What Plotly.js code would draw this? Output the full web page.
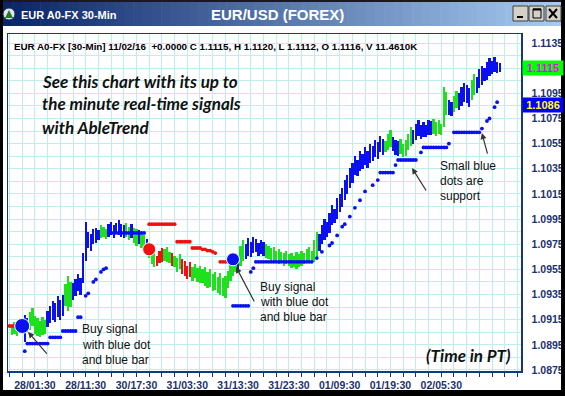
<!DOCTYPE html>
<html><head><meta charset="utf-8">
<script src="https://cdn.plot.ly/plotly-3.0.1.min.js"></script>
<style>html,body{margin:0;padding:0;background:#fff;overflow:hidden}#chart{width:565px;height:396px}</style>
</head><body><div id="chart"></div>
<script>
// ---- DATA (30-min bars) ----
const barHigh = [
1.0911,1.0913,1.0910,1.0912,1.0912,1.0919,1.0916,1.0921,1.0924,1.0918,
1.0916,1.0914,1.0917,1.0915,1.0922,1.0926,1.0930,1.0928,1.0934,1.0931,
1.0935,1.0943,1.0950,1.0945,1.0944,1.0947,1.0951,1.0948,1.0968,1.0993,
1.0985,1.0983,1.0987,1.0988,1.0986,1.0990,1.0989,1.0987,1.0991,1.0993,
1.0990,1.0992,1.0994,1.0991,1.0990,1.0992,1.0989,1.0991,1.0988,1.0987,
1.0986,1.0984,1.0982,1.0979,1.0974,1.0970,1.0968,1.0966,1.0970,1.0972,
1.0971,1.0973,1.0969,1.0968,1.0966,1.0964,1.0967,1.0963,1.0962,1.0958,
1.0961,1.0957,1.0959,1.0956,1.0958,1.0955,1.0957,1.0953,1.0955,1.0951,
1.0953,1.0949,1.0952,1.0948,1.0950,1.0954,1.0962,1.0966,1.0964,1.0965,
1.0974,1.0978,1.0975,1.0980,1.0977,1.0981,1.0979,1.0976,1.0978,1.0977,
1.0975,1.0974,1.0972,1.0973,1.0970,1.0971,1.0969,1.0968,1.0970,1.0967,
1.0968,1.0966,1.0969,1.0967,1.0970,1.0968,1.0971,1.0973,1.0970,1.0978,
1.0985,1.0983,1.0990,1.0995,1.0993,1.1000,1.1006,1.1003,1.1012,1.1015,
1.1020,1.1026,1.1030,1.1036,1.1040,1.1045,1.1042,1.1049,1.1047,1.1052,
1.1049,1.1055,1.1053,1.1058,1.1056,1.1061,1.1059,1.1057,1.1063,1.1066,
1.1060,1.1058,1.1057,1.1059,1.1055,1.1058,1.1063,1.1068,1.1066,1.1071,
1.1074,1.1070,1.1072,1.1070,1.1074,1.1073,1.1075,1.1072,1.1074,1.1071,
1.1100,1.1096,1.1090,1.1088,1.1093,1.1097,1.1095,1.1100,1.1103,1.1102,
1.1099,1.1106,1.1110,1.1108,1.1114,1.1117,1.1115,1.1120,1.1123,1.1121,
1.1124,1.1120,1.1119];
const barLow = [
1.0903,1.0904,1.0902,1.0905,1.0904,1.0897,1.0905,1.0907,1.0910,1.0904,
1.0902,1.0901,1.0903,1.0904,1.0909,1.0912,1.0915,1.0913,1.0917,1.0915,
1.0918,1.0926,1.0922,1.0925,1.0931,1.0934,1.0938,1.0935,1.0944,1.0962,
1.0972,1.0970,1.0975,1.0976,1.0978,1.0980,1.0981,1.0979,1.0981,1.0982,
1.0980,1.0983,1.0982,1.0981,1.0980,1.0981,1.0978,1.0980,1.0976,1.0974,
1.0975,1.0972,1.0971,1.0968,1.0964,1.0959,1.0957,1.0958,1.0960,1.0961,
1.0962,1.0961,1.0960,1.0958,1.0957,1.0953,1.0955,1.0951,1.0950,1.0947,
1.0949,1.0946,1.0948,1.0945,1.0944,1.0944,1.0942,1.0940,1.0941,1.0938,
1.0939,1.0936,1.0935,1.0934,1.0932,1.0940,1.0946,1.0950,1.0953,1.0955,
1.0958,1.0962,1.0963,1.0966,1.0965,1.0968,1.0969,1.0966,1.0967,1.0966,
1.0964,1.0963,1.0962,1.0961,1.0960,1.0959,1.0960,1.0958,1.0959,1.0958,
1.0956,1.0957,1.0955,1.0957,1.0958,1.0959,1.0960,1.0961,1.0960,1.0961,
1.0965,1.0970,1.0975,1.0978,1.0981,1.0984,1.0990,1.0992,1.0995,1.1001,
1.1005,1.1010,1.1015,1.1020,1.1024,1.1030,1.1029,1.1033,1.1035,1.1038,
1.1036,1.1040,1.1041,1.1044,1.1043,1.1048,1.1046,1.1048,1.1050,1.1052,
1.1049,1.1046,1.1045,1.1047,1.1044,1.1045,1.1050,1.1053,1.1055,1.1058,
1.1061,1.1059,1.1060,1.1060,1.1062,1.1062,1.1063,1.1061,1.1063,1.1062,
1.1068,1.1078,1.1078,1.1077,1.1080,1.1083,1.1082,1.1085,1.1088,1.1087,
1.1084,1.1090,1.1094,1.1095,1.1099,1.1102,1.1105,1.1106,1.1109,1.1110,
1.1112,1.1111,1.1112];
// trend colour of each bar: b = up (blue), g = neutral (green), r = down (red)
const barTrend = (
"gggggbbggggggg" + "bbbbbbb" + "ggg" + "bbbbbbbbbbb" + "ggg" + "bbbbbbb" + "gg" + "b" + "gg" + "b" + "gg" + "bggg" +
"rrrgggrgggrrrr" + "gggggggggggggggggg" + "b" + "gg" + "bbbbbbbb" + "g" +
"gggggggggggggggggggg" + "bbbbbbbbbbbbbbbbbbbbbbbbbb" + "ggg" + "bbb" + "ggggg" + "bbbbbbbb" + "gggggg" +
"bb" + "gg" + "bbbbb" + "gg" + "bbbbbbbbbb" + "gg").split("");

// small blue support dots
const supportIdx = [5,6,7,8,9,10,11,12,13,14,15,16,17,18,19,20,21,22,23,24,25,26,27,29,30,32,33,35,36,37,
 38,39,40,41,42,43,44,45,46,47,48,49,50,51,52,
 87,88,89,90,91,92,93,94,95,96,97,98,99,100,101,102,103,104,105,106,107,108,109,110,111,112,113,114,115,116,117,118,
 120,122,125,126,128,130,131,133,135,137,139,142,144,145,146,147,148,149,150,151,152,153,154,155,156,157,158,159,
 161,162,163,164,165,166,167,168,169,170,171,172,174,175,176,177,178,179,180,181,182,183,184,185,187,188,190,191];
const supportPrice = [1.0890,1.0896,1.0896,1.0896,1.0896,1.0896,1.0896,1.0896,1.0896,1.0896,1.0901,1.0901,1.0901,1.0901,1.0901,
 1.0906,1.0906,1.0906,1.0906,1.0906,1.0906,1.0917,1.0917,1.0934,1.0936,1.0945,1.0947,1.0953,1.0955,1.0956,
 1.0984,1.0984,1.0984,1.0984,1.0984,1.0984,1.0984,1.0984,1.0984,1.0984,1.0984,1.0984,1.0984,1.0984,1.0984,
 1.0926,1.0926,1.0926,1.0926,1.0926,1.0926,1.0926,1.0953,1.0956,1.0961,1.0961,1.0961,1.0961,1.0961,1.0961,1.0961,1.0961,1.0961,
 1.0961,1.0961,1.0961,1.0961,1.0961,1.0961,1.0961,1.0961,1.0961,1.0961,1.0961,1.0961,1.0961,1.0961,
 1.0964,1.0969,1.0974,1.0976,1.0982,1.0989,1.0991,1.0997,1.1004,1.1010,1.1017,1.1022,1.1026,1.1032,1.1032,1.1032,1.1032,1.1032,1.1032,
 1.1038,1.1042,1.1042,1.1042,1.1042,1.1042,1.1042,1.1042,1.1042,
 1.1048,1.1052,1.1052,1.1052,1.1052,1.1052,1.1052,1.1052,1.1052,1.1052,1.1052,1.1055,
 1.1064,1.1064,1.1064,1.1064,1.1064,1.1064,1.1064,1.1064,1.1064,1.1064,1.1064,1.1067,1.1073,1.1075,1.1084,1.1088];
// small red resistance dots
const resistIdx = [-1,0,1,54,55,56,57,58,59,60,61,62,63,64,65,66,67,68,69,70,71,72,73,74,75,76,77,78,79,80,82,83,84,85];
const resistPrice = [1.0910,1.0910,1.0910,1.0991,1.0991,1.0991,1.0991,1.0991,1.0991,1.0991,1.0991,1.0991,1.0991,1.0991,
 1.0977,1.0977,1.0977,1.0977,1.0977,1.0977,1.0972,1.0972,1.0972,1.0972,1.0971,1.0971,1.0970,1.0970,1.0969,1.0968,
 1.0961,1.0961,1.0961,1.0961];
// big signal dots
const signalIdx = [4, 54, 87];
const signalPrice = [1.0910, 1.0971, 1.0963];
const signalTrend = ["b", "r", "b"];
// axes
const timeTickIdx = [9, 29, 49, 69, 89, 109, 129, 149, 169];
const timeTickLabels = ["28/01:30","28/11:30","30/17:30","31/03:30","31/13:30","31/23:30","01/09:30","01/19:30","02/05:30"];
const priceTicks = [1.0875,1.0895,1.0915,1.0935,1.0955,1.0975,1.0995,1.1015,1.1035,1.1055,1.1075,1.1095,1.1135];
const lastClose = 1.1115;
const supportLevel = 1.1086;
const headerText = "EUR A0-FX [30-Min] 11/02/16  +0.0000 C 1.1115, H 1.1120, L 1.1112, O 1.1116, V 11.4610K";

// ---- STYLE / LAYOUT ----
const COL = {b: "#0a10f0", g: "#1fe01f", r: "#f01010"};
const W = 565, H = 396, PL = 8, PR = 521, PT = 34, PB = 371;
const X = px => (px - PL) / (PR - PL);
const Y = py => (PB - py) / (PB - PT);

const idx = barHigh.map((_, i) => i);
const traces = [
  {type: "bar", x: idx, y: barHigh.map((h, i) => h - barLow[i]), base: barLow, width: 0.9,
   marker: {color: barTrend.map(t => COL[t]), line: {width: 0}}, hoverinfo: "skip"},
  {type: "scatter", mode: "markers", x: resistIdx, y: resistPrice,
   marker: {color: COL.r, size: 3.8, opacity: 1}, hoverinfo: "skip"},
  {type: "scatter", mode: "markers", x: supportIdx, y: supportPrice,
   marker: {color: COL.b, size: 3.8, opacity: 1}, hoverinfo: "skip"},
  {type: "scatter", mode: "markers", x: signalIdx, y: signalPrice,
   marker: {color: signalTrend.map(t => COL[t]), size: [15, 13, 13], opacity: 1}, hoverinfo: "skip"}
];

const tickvals = [], ticktext = [];
for (let v = -1; v <= 200; v += 5) {
  tickvals.push(v);
  const k = timeTickIdx.indexOf(v);
  ticktext.push(k >= 0 ? timeTickLabels[k] : "");
}

const shapes = [];
// title bar gradient
const N = 60, c0 = [10, 36, 106], c1 = [166, 202, 240];
for (let k = 0; k < N; k++) {
  const t = k / (N - 1);
  const c = c0.map((v, j) => Math.round(v + (c1[j] - v) * t));
  shapes.push({type: "rect", xref: "paper", yref: "paper", layer: "above",
    x0: X(3 + k * 558 / N), x1: X(3 + (k + 1) * 558 / N + 0.6), y0: Y(26), y1: Y(2),
    fillcolor: `rgb(${c.join(",")})`, line: {width: 0}});
}
// window borders
const rect = (x0, y0, x1, y1, fill, line) => shapes.push({type: "rect", xref: "paper", yref: "paper", layer: "above",
  x0: X(x0), x1: X(x1), y0: Y(y1), y1: Y(y0), fillcolor: fill, line: line || {width: 0}});
rect(0, 0, 565, 2, "#1a1a1a");
rect(0, 0, 3, 396, "#000");
rect(561, 0, 565, 396, "#000");
rect(0, 390, 565, 396, "#000");
// window buttons
rect(513, 6, 528, 21, "#d4d0c8", {color: "#404040", width: 1});
rect(529, 6, 544, 21, "#d4d0c8", {color: "#404040", width: 1});
rect(546, 6, 561, 21, "#d4d0c8", {color: "#404040", width: 1});
const seg = (x0, y0, x1, y1, w) => shapes.push({type: "line", xref: "paper", yref: "paper", layer: "above",
  x0: X(x0), x1: X(x1), y0: Y(y0), y1: Y(y1), line: {color: "#000", width: w}});
seg(517, 17, 523, 17, 2);
rect(533, 9, 541, 18, "rgba(0,0,0,0)", {color: "#000", width: 1});
seg(533, 9.5, 541, 9.5, 2);
seg(549, 9, 557, 18, 2);
seg(557, 9, 549, 18, 2);
// icon
shapes.push({type: "circle", xref: "paper", yref: "paper", layer: "above",
  x0: X(3), x1: X(15), y0: Y(20), y1: Y(8), fillcolor: "#e4e8e4", line: {color: "#203060", width: 1}});
shapes.push({type: "path", xref: "paper", yref: "paper", layer: "above",
  path: `M ${X(9)} ${Y(10)} L ${X(13)} ${Y(18)} L ${X(5)} ${Y(18)} Z`, fillcolor: "#1f7a2a", line: {width: 0}});

const TXT = {family: "Arial, Liberation Sans, sans-serif", size: 12, color: "#111"};
const ann = (text, px, py, font, extra) => Object.assign({text, xref: "paper", yref: "paper",
  x: X(px), y: Y(py), xanchor: "left", yanchor: "middle", showarrow: false, font}, extra || {});
const italic = {family: "Lato, Open Sans, sans-serif", size: 17, color: "#111", weight: 700, style: "italic"};
const annotations = [
  ann("EUR A0-FX 30-Min", 19, 14.5, {family: "Arial, Liberation Sans", size: 11, color: "#fff", weight: 700}),
  ann("EUR/USD (FOREX)", 277, 15, {family: "Arial, Liberation Sans", size: 15, color: "#fff", weight: 700}, {xanchor: "center"}),
  ann(headerText, 12, 46, {family: "Arial, Liberation Sans", size: 9.8, color: "#000", weight: 700}),
  ann("See this chart with its up to", 40, 81, italic),
  ann("the minute real-time signals", 40, 104, italic),
  ann("with AbleTrend", 40, 127, italic),
  ann("(Time in PT)", 424, 355, italic),
  ann("Buy signal", 80, 329, TXT), ann("with blue dot", 80, 345, TXT), ann("and blue bar", 80, 360, TXT),
  ann("Buy signal", 258, 287, TXT), ann("with blue dot", 258, 302, TXT), ann("and blue bar", 258, 317, TXT),
  ann("Small blue", 438, 166, TXT), ann("dots are", 438, 181, TXT), ann("support", 438, 196, TXT),
];
const arrow = (x, y, ax, ay) => ({x, y, xref: "x", yref: "y", text: "", showarrow: true, ax, ay,
  arrowhead: 2, arrowsize: 1, arrowwidth: 1.2, arrowcolor: "#333"});
annotations.push(arrow(6.3, 1.09052, 20, 23));
annotations.push(arrow(88.2, 1.09569, 19, 36));
annotations.push(arrow(157.5, 1.10356, 15, 24));
annotations.push(arrow(185, 1.10634, 6, 22));
const box = (val, bg, fg) => ({text: val.toFixed(4), xref: "paper", yref: "y", x: 1, y: val, xanchor: "left",
  yanchor: "middle", xshift: 1, showarrow: false, width: 40, height: 14, bgcolor: bg, borderpad: 0,
  font: {family: "Arial, Liberation Sans", size: 11, color: fg, weight: 700}});
annotations.push(box(lastClose, "#00ff00", "#ff00ff"));
annotations.push(box(supportLevel, "#0000ff", "#ffff00"));

const axisFont = {family: "Arial, Liberation Sans, sans-serif", size: 10.5, color: "#1c3270", weight: 700};
const layout = {
  width: W, height: H, margin: {l: PL, r: W - PR, t: PT, b: H - PB, pad: 0},
  paper_bgcolor: "#fff", plot_bgcolor: "#fff", showlegend: false, bargap: 0,
  xaxis: {range: [-1.6, 200.4], tickmode: "array", tickvals, ticktext, ticks: "outside", ticklen: 4,
    tickcolor: "#1c3270", tickwidth: 1, showgrid: true, gridcolor: "#bfeeee", gridwidth: 1, zeroline: false,
    showline: true, mirror: true, linecolor: "#123a7a", linewidth: 1.5, tickfont: axisFont, tickangle: 0,
    fixedrange: true},
  yaxis: {side: "right", range: [1.08742, 1.11422], tickmode: "array", tickvals: priceTicks,
    ticktext: priceTicks.map(v => v.toFixed(4)),
    ticks: "outside", ticklen: 7, tickcolor: "rgba(0,0,0,0)", showgrid: true, gridcolor: "#bfeeee",
    minor: {tickmode: "linear", tick0: 1.0875, dtick: 0.001, showgrid: true, gridcolor: "#bfeeee", ticks: ""},
    zeroline: false, showline: true, mirror: true, linecolor: "#123a7a", linewidth: 1.5, tickfont: axisFont,
    fixedrange: true},
  shapes, annotations
};
Plotly.newPlot("chart", traces, layout, {displayModeBar: false, staticPlot: true});
</script></body></html>
